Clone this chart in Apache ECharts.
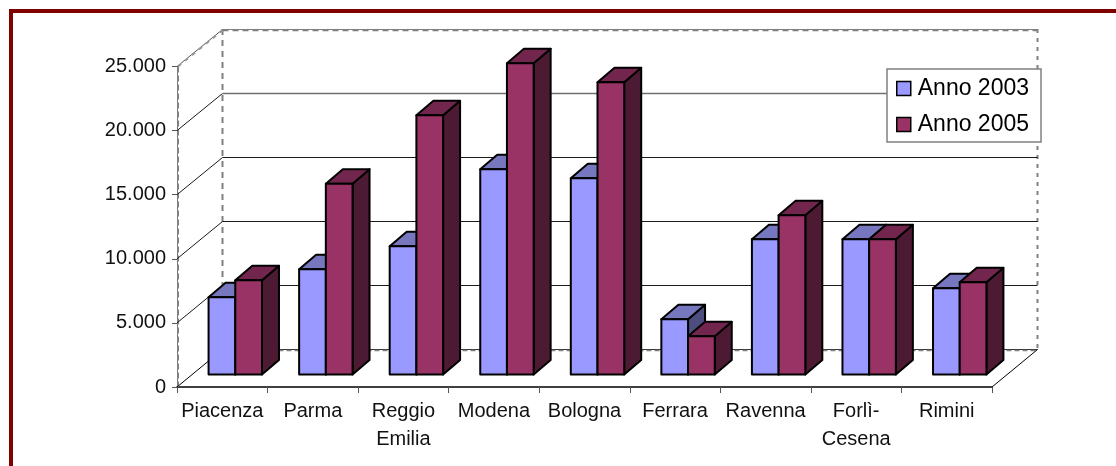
<!DOCTYPE html>
<html>
<head>
<meta charset="utf-8">
<style>html,body{margin:0;padding:0;background:#fff}#main{width:1116px;height:466px}</style>
<script src="https://cdn.jsdelivr.net/npm/echarts@6/dist/echarts.min.js"></script>
</head>
<body>
<div id="main"></div>
<script>
var categories = ['Piacenza', 'Parma', 'Reggio\nEmilia', 'Modena', 'Bologna', 'Ferrara', 'Ravenna', 'Forlì-\nCesena', 'Rimini'];
var anno2003 = [6030, 8210, 10000, 16010, 15310, 4310, 10550, 10550, 6730];
var anno2005 = [7350, 14880, 20220, 24280, 22790, 2980, 12420, 10550, 7190];
var yTicks = [0, 5000, 10000, 15000, 20000, 25000];

var fontName = '"Liberation Sans", Arial, sans-serif';
var myChart = echarts.init(document.getElementById('main'));

// depth of the fake 3d box, in pixels
var wallDx = 45.5, wallDy = -38;
var barDx = 13, barDy = -12.5, sideDx = 17, sideDy = -14.5;
var barW = 26.7;

function line(pts, color, width, dash) {
	return {
		type: 'polyline',
		shape: { points: pts },
		style: { stroke: color, lineWidth: width, lineDash: dash || null, fill: null }
	};
}

// walls and gridlines, one call per y tick
function renderWall(params, api) {
	var value = api.value(0);
	var p = api.coord([0, value]);
	var sys = params.coordSys;
	var left = sys.x, right = sys.x + sys.width;
	var y = Math.round(p[1] + wallDy) + 0.5;
	var children = [];
	if (value === 0) {
		var bottom = sys.y + sys.height, top = sys.y;
		var backTop = Math.round(top + wallDy);
		children.push(line([[left + wallDx, y], [right + wallDx, y]], '#333', 1));
		children.push(line([[left + wallDx, y + 1], [right + wallDx, y + 1]], '#808080', 1.5, [5, 3]));
		children.push(line([[left + wallDx, backTop], [left + wallDx, y]], '#808080', 2, [6, 5]));
		children.push(line([[right + wallDx, backTop], [right + wallDx, y]], '#808080', 2, [4, 5]));
		children.push(line([[left + 1, top], [left + 1, bottom]], '#808080', 2, [6, 3]));
		children.push(line([[left, bottom], [left + wallDx, y]], '#000', 1));
		children.push(line([[right, bottom], [right + wallDx, y]], '#000', 1));
	} else if (value === 25000) {
		children.push(line([[left, p[1]], [left + wallDx, y]], '#555', 1));
		children.push(line([[left + 1, p[1]], [left + wallDx + 1, y]], '#999', 2, [4, 5]));
		children.push(line([[left + wallDx, y], [right + wallDx, y]], '#808080', 1));
		children.push(line([[left + wallDx, y + 1], [right + wallDx, y + 1]], '#808080', 1.5, [6, 4]));
	} else {
		var c = value === 20000 ? '#707070' : '#1a1a1a';
		children.push(line([[left, p[1]], [left + wallDx, y]], '#1a1a1a', 1));
		children.push(line([[left + wallDx, y], [right + wallDx, y]], c, value === 20000 ? 1.5 : 1));
	}
	return { type: 'group', children: children };
}

function renderBar(k, front, top, side) {
	return function(params, api) {
		var i = api.value(0);
		var base = api.coord([i, 0]);
		var head = api.coord([i, api.value(1)]);
		var x0 = base[0] + barDx - barW + k * barW, x1 = x0 + barW;
		var y0 = base[1] + barDy, y1 = head[1] + barDy;
		var border = { stroke: '#000', lineWidth: 2, lineJoin: 'round' };
		var parts = [
			{ fill: side, pts: [[x1, y0], [x1, y1], [x1 + sideDx, y1 + sideDy], [x1 + sideDx, y0 + sideDy]] },
			{ fill: top, pts: [[x0, y1], [x1, y1], [x1 + sideDx, y1 + sideDy], [x0 + sideDx, y1 + sideDy]] },
			{ fill: front, pts: [[x0, y0], [x1, y0], [x1, y1], [x0, y1]] }
		];
		return {
			type: 'group',
			children: parts.map(function(s) {
				return {
					type: 'polygon',
					shape: { points: s.pts },
					style: Object.assign({ fill: s.fill }, border)
				};
			})
		};
	};
}

var option = {
	animation: false,
	backgroundColor: '#fff',
	graphic: [{
		type: 'rect',
		shape: { x: 11, y: 11, width: 1300, height: 700 },
		style: { fill: null, stroke: '#800000', lineWidth: 4 },
		silent: true
	}],
	legend: {
		left: 887,
		top: 69,
		orient: 'vertical',
		data: ['Anno 2003', 'Anno 2005'],
		backgroundColor: '#fff',
		borderColor: '#808080',
		borderWidth: 1.5,
		padding: [8, 12, 6, 9],
		itemWidth: 14,
		itemHeight: 14,
		itemGap: 13,
		icon: 'rect',
		itemStyle: { borderColor: '#000', borderWidth: 1.5 },
		textStyle: { fontFamily: fontName, fontSize: 23, color: '#000', padding: [0, 0, 0, 2] },
		selectedMode: false,
		z: 20
	},
	grid: { left: 177, right: 124, top: 66.5, bottom: 79 },
	xAxis: {
		type: 'category',
		data: categories,
		axisLine: { show: true, lineStyle: { color: '#000', width: 1.5 } },
		axisTick: { show: true, length: 6, lineStyle: { color: '#555', width: 1 } },
		splitLine: { show: false },
		axisLabel: {
			interval: 0,
			margin: 10,
			fontFamily: fontName,
			fontSize: 20,
			lineHeight: 28,
			color: '#111'
		}
	},
	yAxis: {
		type: 'value',
		min: 0,
		max: 25000,
		interval: 5000,
		axisLine: { show: true, lineStyle: { color: '#777', width: 1 } },
		axisTick: { show: true, length: 5, lineStyle: { color: '#555', width: 1 } },
		splitLine: { show: false },
		axisLabel: {
			margin: 11,
			fontFamily: fontName,
			fontSize: 20,
			color: '#111',
			formatter: function(v) {
				return String(v).replace(/\B(?=(\d{3})+$)/, '.');
			}
		}
	},
	series: [{
		name: 'wall',
		type: 'custom',
		silent: true,
		z: 1,
		renderItem: renderWall,
		encode: { y: 0 },
		data: yTicks.map(function(v) { return [v]; })
	}, {
		name: 'Anno 2003',
		type: 'custom',
		z: 3,
		itemStyle: { color: '#9999FF' },
		renderItem: renderBar(0, '#9999FF', '#7777BF', '#4D4D80'),
		encode: { x: 0, y: 1 },
		data: anno2003.map(function(v, i) { return [i, v]; })
	}, {
		name: 'Anno 2005',
		type: 'custom',
		z: 4,
		itemStyle: { color: '#993366' },
		renderItem: renderBar(1, '#993366', '#73264D', '#4D1A33'),
		encode: { x: 0, y: 1 },
		data: anno2005.map(function(v, i) { return [i, v]; })
	}]
};
myChart.setOption(option);
</script>
</body>
</html>
